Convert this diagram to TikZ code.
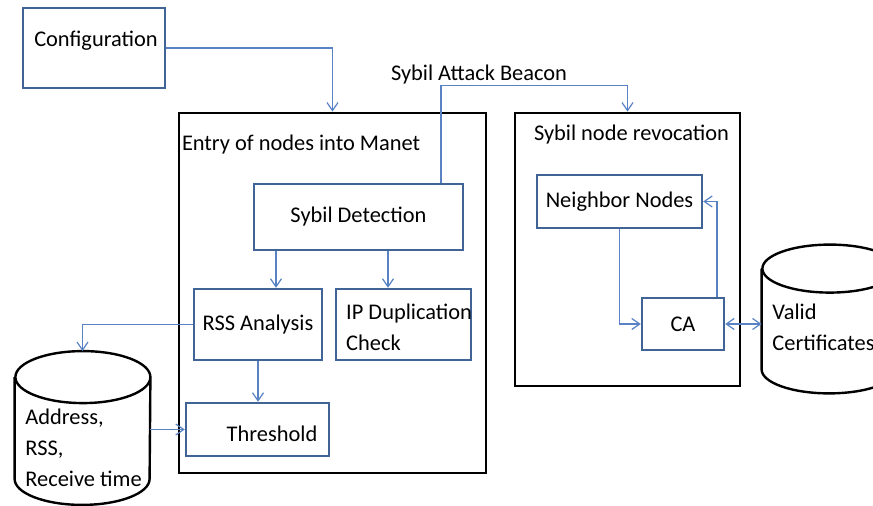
\documentclass[tikz,border=0pt]{standalone}
\usepackage{fontspec}
\setmainfont{Carlito}
\usepackage{xcolor}
\usetikzlibrary{positioning, arrows.meta, shapes.geometric}

\definecolor{boxblue}{RGB}{64,100,150}
\definecolor{lineblue}{RGB}{88,130,195}

\begin{document}
\begin{tikzpicture}[x=0.5pt, y=-0.5pt,
  font=\fontsize{11.2}{15.5}\selectfont,
  bluebox/.style={draw=boxblue, line width=1.2pt, inner sep=0pt},
  outerbox/.style={draw=black, line width=1.4pt, inner sep=0pt},
  store/.style={inner sep=0pt, minimum width=67.5pt},
  storeline/.style={draw=black, line width=1.2pt},
  conn/.style={draw=lineblue, line width=0.6pt, -{Straight Barb[length=4pt,width=5.5pt]}},
  txt/.style={inner sep=0pt, align=left}]

\useasboundingbox (0,0) rectangle (873,506);

\node[bluebox, minimum width=71pt, minimum height=40pt, label={[txt, xshift=1pt, yshift=3.5pt]center:Configuration}] (conf) at (94,48) {};

\node[outerbox, minimum width=153.5pt, minimum height=180pt, label={[txt, anchor=west, xshift=2pt, yshift=-16.5pt]north west:Entry of nodes into Manet}] (entry) at (332.5,293) {};
\node[outerbox, minimum width=112.5pt, minimum height=136.5pt, label={[txt, anchor=center, xshift=2pt, yshift=-11.5pt]north:Sybil node revocation}] (rev) at (627.5,249.5) {};
\node[txt] (beacon) at (479,75) {Sybil Attack Beacon};

\node[bluebox, minimum width=104.5pt, minimum height=33pt] (sdet) at (358.5,217) {Sybil Detection};
\node[bluebox, minimum width=64pt, minimum height=35.5pt] (rss) at (258,324.5) {RSS Analysis};
\node[bluebox, minimum width=67.5pt, minimum height=35.5pt, label={[txt, anchor=west, xshift=5.5pt, yshift=-1.5pt]west:IP Duplication\\Check}] (ipdup) at (403.5,324.5) {};
\node[bluebox, minimum width=71.5pt, minimum height=26.5pt, label={[txt, xshift=7.25pt, yshift=-2.25pt]center:Threshold}] (thr) at (257.5,429.5) {};
\node[bluebox, minimum width=82.5pt, minimum height=26.5pt] (nbr) at (619.5,201.5) {Neighbor Nodes};
\node[bluebox, minimum width=41pt, minimum height=26pt] (ca) at (683,324) {CA};

% data stores
\node[store, minimum height=76.5pt] (addr) at (82.5,428) {};
\draw[storeline] ([yshift=-13pt]addr.north west) -- ([yshift=13pt]addr.south west)
  arc[start angle=180, end angle=360, x radius=33.75pt, y radius=13pt]
  -- ([yshift=-13pt]addr.north east)
  arc[start angle=0, end angle=360, x radius=33.75pt, y radius=13pt];
\node[txt, anchor=west] (addrtxt) at (25,448) {Address,\\RSS,\\Receive time};

\node[store, minimum height=74pt] (valid) at (829.5,319) {};
\draw[storeline] ([yshift=-12pt]valid.north west) -- ([yshift=12pt]valid.south west)
  arc[start angle=180, end angle=360, x radius=33.75pt, y radius=12pt]
  -- ([yshift=-12pt]valid.north east)
  arc[start angle=0, end angle=360, x radius=33.75pt, y radius=12pt];
\node[txt, anchor=west] (validtxt) at (772,327) {Valid\\Certificates};

\draw[conn] (conf.east) -| (entry.north);
\draw[conn] ([xshift=41.25pt]sdet.north) -- ++(0,-97) -| (rev.north);
\draw[conn] ([xshift=9pt]rss.north |- sdet.south) -- ([xshift=9pt]rss.north);
\draw[conn] ([xshift=-7.75pt]ipdup.north |- sdet.south) -- ([xshift=-7.75pt]ipdup.north);
\draw[conn] (rss.south) -- (rss.south |- thr.north);
\draw[conn] (rss.west) -| (addr.north);
\draw[conn] (thr.west -| addr.east) -- (thr.west);
\draw[conn] (nbr.south) |- (ca.west);
\draw[conn] ([xshift=17pt]ca.north) |- (nbr.east);
\draw[conn, {Straight Barb[length=4pt,width=5.5pt]}-{Straight Barb[length=4pt,width=5.5pt]}] (ca.east) -- (ca.east -| valid.west);

\end{tikzpicture}
\end{document}
